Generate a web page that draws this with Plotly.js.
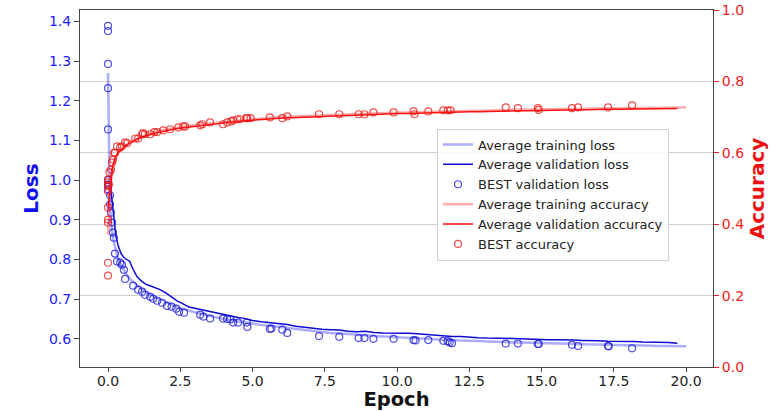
<!DOCTYPE html>
<html>
<head>
<meta charset="utf-8">
<script src="https://cdn.plot.ly/plotly-3.0.1.min.js"></script>
<style>html,body{margin:0;padding:0;background:#fff;}#chart{width:774px;height:411px;}</style>
</head>
<body>
<div id="chart"></div>
<script>
// ---- data ----
const epochs = [0, 0.03, 0.06, 0.1, 0.14, 0.2, 0.27, 0.35, 0.45, 0.55, 0.65, 0.75, 0.85, 1.0, 1.15, 1.3, 1.45, 1.6, 1.8, 2.0, 2.2, 2.4, 2.6, 2.8, 3.0, 3.25, 3.5, 3.75, 4.0, 4.25, 4.5, 4.75, 5.0, 5.3, 5.6, 5.9, 6.2, 6.5, 6.8, 7.1, 7.4, 7.7, 8.0, 8.3, 8.6, 8.9, 9.2, 9.5, 9.8, 10.1, 10.4, 10.7, 11.0, 11.3, 11.6, 11.9, 12.2, 12.5, 12.8, 13.1, 13.4, 13.7, 14.0, 14.3, 14.6, 14.9, 15.2, 15.5, 15.8, 16.1, 16.4, 16.7, 17.0, 17.3, 17.6, 17.9, 18.2, 18.5, 18.8, 19.1, 19.4, 19.7, 20.0];

const trainLoss = [1.27, 1.05, 0.95, 0.90, 0.87, 0.845, 0.82, 0.80, 0.785, 0.772, 0.762, 0.752, 0.745, 0.735, 0.727, 0.72, 0.713, 0.706, 0.70, 0.692, 0.686, 0.68, 0.675, 0.671, 0.667, 0.662, 0.658, 0.654, 0.65, 0.647, 0.644, 0.641, 0.638, 0.635, 0.633, 0.630, 0.628, 0.625, 0.622, 0.620, 0.617, 0.615, 0.614, 0.612, 0.610, 0.609, 0.607, 0.606, 0.605, 0.603, 0.602, 0.601, 0.600, 0.599, 0.597, 0.597, 0.596, 0.595, 0.594, 0.593, 0.593, 0.592, 0.591, 0.591, 0.590, 0.589, 0.589, 0.588, 0.588, 0.587, 0.587, 0.586, 0.586, 0.585, 0.585, 0.584, 0.584, 0.583, 0.583, 0.582, 0.582, 0.581, 0.581];

const valLoss = [null, null, null, 0.975, 0.95, 0.90, 0.86, 0.835, 0.815, 0.805, 0.800, 0.795, 0.778, 0.757, 0.746, 0.738, 0.734, 0.730, 0.724, 0.716, 0.706, 0.695, 0.688, 0.680, 0.677, 0.673, 0.669, 0.666, 0.662, 0.658, 0.654, 0.651, 0.646, 0.643, 0.641, 0.639, 0.636, 0.632, 0.629, 0.627, 0.624, 0.623, 0.622, 0.619, 0.618, 0.619, 0.616, 0.615, 0.615, 0.614, 0.614, 0.613, 0.611, 0.609, 0.607, 0.606, 0.606, 0.604, 0.603, 0.602, 0.602, 0.601, 0.601, 0.600, 0.599, 0.599, 0.598, 0.598, 0.598, 0.597, 0.596, 0.596, 0.595, 0.594, 0.594, 0.593, 0.593, 0.592, 0.592, 0.591, 0.591, 0.589, null];

const trainAcc = [0.37, 0.45, 0.49, 0.52, 0.545, 0.568, 0.585, 0.598, 0.608, 0.617, 0.623, 0.629, 0.634, 0.640, 0.645, 0.649, 0.653, 0.657, 0.661, 0.665, 0.668, 0.671, 0.673, 0.675, 0.678, 0.680, 0.682, 0.684, 0.687, 0.689, 0.691, 0.693, 0.695, 0.697, 0.698, 0.700, 0.701, 0.702, 0.703, 0.704, 0.705, 0.706, 0.707, 0.708, 0.709, 0.710, 0.710, 0.711, 0.712, 0.713, 0.713, 0.714, 0.715, 0.715, 0.716, 0.717, 0.717, 0.718, 0.718, 0.719, 0.719, 0.720, 0.720, 0.721, 0.721, 0.722, 0.722, 0.723, 0.723, 0.723, 0.724, 0.724, 0.724, 0.725, 0.725, 0.725, 0.726, 0.726, 0.726, 0.726, 0.727, 0.727, 0.727];

const valAcc = [0.44, 0.47, 0.50, 0.53, 0.555, 0.575, 0.59, 0.60, 0.61, 0.617, 0.622, 0.627, 0.632, 0.638, 0.643, 0.647, 0.651, 0.655, 0.658, 0.662, 0.665, 0.668, 0.670, 0.672, 0.675, 0.677, 0.679, 0.681, 0.684, 0.686, 0.688, 0.690, 0.692, 0.694, 0.695, 0.697, 0.698, 0.699, 0.700, 0.701, 0.702, 0.703, 0.704, 0.705, 0.706, 0.707, 0.707, 0.708, 0.709, 0.710, 0.710, 0.711, 0.712, 0.712, 0.713, 0.714, 0.714, 0.715, 0.715, 0.716, 0.716, 0.717, 0.717, 0.718, 0.718, 0.719, 0.719, 0.720, 0.720, 0.720, 0.721, 0.721, 0.721, 0.722, 0.722, 0.722, 0.723, 0.723, 0.723, 0.723, 0.724, 0.724, null];

const bestLossEpoch = [0, 0, 0, 0, 0, 0, 0, 0, 0.07, 0.07, 0.1, 0.14, 0.17, 0.2, 0.24, 0.31, 0.42, 0.48, 0.55, 0.59, 0.87, 1.04, 1.18, 1.28, 1.46, 1.56, 1.7, 1.87, 2.04, 2.2, 2.36, 2.46, 2.63, 3.19, 3.3, 3.53, 3.98, 4.12, 4.23, 4.33, 4.5, 4.8, 4.82, 5.6, 5.65, 6.03, 6.2, 7.3, 8.0, 8.67, 8.87, 9.18, 9.88, 10.57, 10.64, 11.08, 11.6, 11.75, 11.82, 11.9, 13.76, 14.18, 14.87, 14.9, 16.05, 16.26, 17.3, 17.32, 18.13];
const bestLoss = [1.389, 1.376, 1.293, 1.232, 1.128, 1.0, 0.989, 0.977, 0.962, 0.939, 0.918, 0.893, 0.868, 0.855, 0.815, 0.795, 0.792, 0.787, 0.774, 0.751, 0.734, 0.724, 0.719, 0.711, 0.706, 0.701, 0.696, 0.691, 0.683, 0.681, 0.676, 0.668, 0.666, 0.661, 0.656, 0.651, 0.651, 0.650, 0.649, 0.641, 0.641, 0.641, 0.630, 0.625, 0.626, 0.623, 0.615, 0.607, 0.605, 0.602, 0.602, 0.600, 0.600, 0.597, 0.596, 0.597, 0.595, 0.594, 0.591, 0.589, 0.588, 0.588, 0.587, 0.587, 0.585, 0.582, 0.582, 0.581, 0.576];

const bestAccEpoch = [0, 0, 0, 0, 0, 0, 0, 0, 0, 0.03, 0.05, 0.1, 0.14, 0.17, 0.21, 0.24, 0.31, 0.42, 0.48, 0.59, 0.66, 0.94, 1.04, 1.18, 1.21, 1.28, 1.46, 1.6, 1.7, 1.91, 2.15, 2.43, 2.6, 2.67, 3.19, 3.26, 3.53, 3.98, 4.12, 4.26, 4.33, 4.47, 4.57, 4.78, 4.82, 4.93, 5.6, 6.03, 6.2, 7.3, 8.0, 8.67, 8.87, 9.18, 9.88, 10.57, 10.6, 11.08, 11.6, 11.75, 11.85, 13.76, 14.18, 14.87, 14.9, 16.05, 16.26, 17.3, 18.13];
const bestAcc = [0.256, 0.292, 0.404, 0.413, 0.447, 0.492, 0.506, 0.517, 0.525, 0.511, 0.545, 0.553, 0.573, 0.581, 0.600, 0.600, 0.618, 0.615, 0.618, 0.629, 0.627, 0.640, 0.640, 0.652, 0.655, 0.652, 0.652, 0.658, 0.658, 0.663, 0.666, 0.671, 0.674, 0.674, 0.677, 0.680, 0.685, 0.680, 0.685, 0.688, 0.691, 0.694, 0.694, 0.697, 0.697, 0.697, 0.699, 0.697, 0.702, 0.708, 0.708, 0.708, 0.708, 0.713, 0.713, 0.716, 0.708, 0.716, 0.719, 0.719, 0.719, 0.727, 0.725, 0.725, 0.720, 0.725, 0.727, 0.727, 0.733];

const xTicks = [0, 2.5, 5, 7.5, 10, 12.5, 15, 17.5, 20];
const xTickText = ["0.0", "2.5", "5.0", "7.5", "10.0", "12.5", "15.0", "17.5", "20.0"];

// ---- chart ----
const FONT = "DejaVu Sans, sans-serif";
const traces = [
  {x: epochs, y: trainLoss, type: "scatter", mode: "lines", name: "Average training loss",
   line: {color: "rgba(60,60,255,0.42)", width: 2.5}, yaxis: "y"},
  {x: epochs, y: valLoss, type: "scatter", mode: "lines", name: "Average validation loss",
   line: {color: "#0a0ad2", width: 1.5}, yaxis: "y"},
  {x: bestLossEpoch, y: bestLoss, type: "scatter", mode: "markers", name: "BEST validation loss",
   marker: {symbol: "circle-open", size: 7, color: "rgba(20,20,220,0.75)", line: {width: 1.2}}, yaxis: "y"},
  {x: epochs, y: trainAcc, type: "scatter", mode: "lines", name: "Average training accuracy",
   line: {color: "rgba(255,60,60,0.42)", width: 2.5}, yaxis: "y2"},
  {x: epochs, y: valAcc, type: "scatter", mode: "lines", name: "Average validation accuracy",
   line: {color: "#ff1010", width: 1.5}, yaxis: "y2"},
  {x: bestAccEpoch, y: bestAcc, type: "scatter", mode: "markers", name: "BEST accuracy",
   marker: {symbol: "circle-open", size: 7, color: "rgba(235,20,20,0.75)", line: {width: 1.2}}, yaxis: "y2"}
];

const layout = {
  width: 774, height: 411,
  margin: {l: 80, r: 61, t: 10, b: 44, pad: 0},
  paper_bgcolor: "#fff", plot_bgcolor: "#fff",
  font: {family: FONT, size: 14, color: "#222"},
  showlegend: true,
  legend: {x: 0.564, y: 0.668, xanchor: "left", yanchor: "top",
           bgcolor: "rgba(255,255,255,0.85)", bordercolor: "#d0d0d0", borderwidth: 1,
           font: {family: FONT, size: 13, color: "#222"}, tracegroupgap: 0},
  xaxis: {range: [-0.97, 20.93], tickvals: xTicks, ticktext: xTickText,
          showgrid: false, zeroline: false, showline: true, mirror: true,
          linecolor: "#444", linewidth: 1, ticks: "outside", ticklen: 4, tickcolor: "#444",
          ticklabelstandoff: -3,
          tickfont: {family: FONT, size: 14, color: "#222"},
          title: {text: "<b>Epoch</b>", font: {family: FONT, size: 19.5, color: "#111"}, standoff: 7}},
  yaxis: {range: [0.529, 1.429], dtick: 0.1, tick0: 0, tickformat: ".1f",
          showgrid: false, zeroline: false, showline: true, mirror: false,
          linecolor: "#444", linewidth: 1, ticks: "outside", ticklen: 5, tickcolor: "#444",
          tickfont: {family: FONT, size: 14, color: "#1a1aff"},
          title: {text: "<b>Loss</b>", font: {family: FONT, size: 20, color: "#1010ee"}, standoff: 4}},
  yaxis2: {range: [0, 1], dtick: 0.2, tick0: 0, tickformat: ".1f", overlaying: "y", side: "right",
           showgrid: true, gridcolor: "#cfcfcf", gridwidth: 1, zeroline: false,
           showline: true, linecolor: "#444", linewidth: 1, ticks: "outside", ticklen: 5, tickcolor: "#ee1c1c",
           tickfont: {family: FONT, size: 14, color: "#ee1c1c"},
           title: {text: "<b>Accuracy</b>", font: {family: FONT, size: 20, color: "#ee1010"}, standoff: 6}}
};

Plotly.newPlot("chart", traces, layout, {displayModeBar: false, staticPlot: true});
</script>
</body>
</html>
